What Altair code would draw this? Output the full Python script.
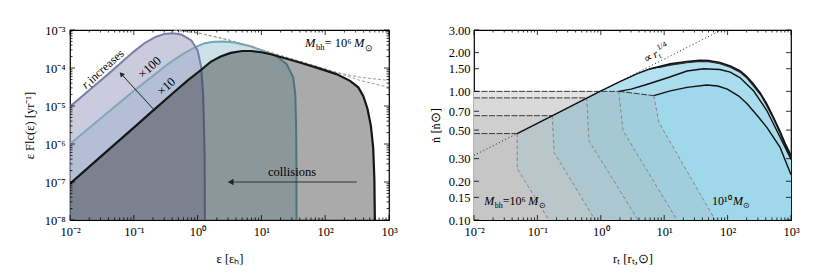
import altair as alt
import pandas as pd

FONT = "Liberation Serif, Times New Roman, serif"
WL, WR, H = 319, 317, 190

# ================= LEFT PANEL DATA =================
# "x100" curve (purple)
pur_x = [0.01, 0.02, 0.04, 0.07, 0.1, 0.15, 0.22, 0.3, 0.4, 0.56, 0.8, 1.0, 1.14, 1.22, 1.26, 1.29, 1.3]
pur_y = [9.6e-6, 2.6e-5, 7.0e-5, 1.6e-4, 2.7e-4, 4.6e-4, 6.6e-4, 7.8e-4, 8.2e-4, 7.6e-4, 5.3e-4,
         2.9e-4, 1.05e-4, 2.1e-5, 2.8e-6, 4e-7, 1e-8]
# "x10" curve (teal)
teal_x = [0.01, 0.03, 0.1, 0.2, 0.34, 0.6, 0.9, 1.3, 1.8, 2.6, 3.8, 6.6, 10, 17.4, 25, 31.6, 34, 35, 35.4, 35.5]
teal_y = [1e-6, 4.7e-6, 2.5e-5, 6.2e-5, 1.27e-4, 2.4e-4, 3.5e-4, 4.5e-4, 4.9e-4, 5.0e-4, 4.7e-4, 3.8e-4,
          2.95e-4, 2.05e-4, 1.25e-4, 5.6e-5, 2e-5, 3e-6, 3e-7, 1e-8]
# base curve (black)
blk_x = [0.01, 0.03, 0.1, 0.19, 0.4, 0.7, 1.14, 1.6, 2.3, 3.3, 5, 7, 10, 14, 20, 40, 80, 150, 245, 330,
         395, 460, 520, 565, 590, 600]
blk_y = [9e-8, 4.6e-7, 2.7e-6, 7.0e-6, 2.1e-5, 4.7e-5, 9.0e-5, 1.45e-4, 2.0e-4, 2.5e-4, 2.8e-4, 2.8e-4,
         2.6e-4, 2.3e-4, 1.95e-4, 1.4e-4, 9.8e-5, 6.9e-5, 4.6e-5, 3.1e-5, 1.85e-5, 8.5e-6, 3e-6, 8e-7,
         1.2e-7, 1e-8]
# grey dashed asymptotes
dsh_x = [0.43, 1.09, 3.22, 9.5, 40, 148, 351, 1000]
dshA_y = [1e-3, 8.2e-4, 5.36e-4, 3.1e-4, 1.5e-4, 7.7e-5, 5.7e-5, 4.7e-5]
dshB_y = [1e-3, 8.2e-4, 5.36e-4, 3.1e-4, 1.5e-4, 7.7e-5, 4.7e-5, 3.1e-5]
# arrows
coll_x = [3.3, 312]
coll_y = [1e-7, 1e-7]
rt_x = [0.0637, 0.213]
rt_y = [6.95e-5, 7.57e-6]

xL_vals = [0.01, 0.1, 1, 10, 100, 1000]
xL_labels = ["10⁻²", "10⁻¹", "10⁰", "10¹", "10²", "10³"]
yL_vals = [1e-8, 1e-7, 1e-6, 1e-5, 1e-4, 1e-3]
yL_labels = ["10⁻⁸", "10⁻⁷", "10⁻⁶", "10⁻⁵", "10⁻⁴", "10⁻³"]

# ================= RIGHT PANEL DATA =================
env_x = [0.048, 0.2, 0.97, 2.0, 3.7, 6, 12.5, 22.9, 36.6, 50, 75.6, 110, 156, 200, 256, 330, 416, 530,
         673, 820, 968, 1000]
env_y = [0.47, 0.67, 1.0, 1.19, 1.37, 1.5, 1.64, 1.71, 1.75, 1.74, 1.68, 1.58, 1.45, 1.31, 1.14, 0.97,
         0.80, 0.63, 0.49, 0.39, 0.33, 0.32]
k1_x = [6, 12.5, 22.9, 36.6, 50, 75.6, 110, 156, 200, 256, 330, 416, 530, 673, 820, 1000]
k1_y = [1.49, 1.62, 1.69, 1.73, 1.72, 1.66, 1.56, 1.43, 1.29, 1.12, 0.955, 0.785, 0.62, 0.48, 0.38, 0.315]
k2_x = [8, 12.5, 22.9, 36.6, 50, 75.6, 110, 156, 200, 256, 330, 416, 530, 673, 820, 1000]
k2_y = [1.53, 1.60, 1.67, 1.71, 1.70, 1.64, 1.54, 1.41, 1.27, 1.10, 0.94, 0.77, 0.61, 0.47, 0.372, 0.305]
c2_x = [1.92, 3, 5, 11, 22.9, 41.7, 75.6, 110, 156, 256, 416, 673, 968, 1000]
c2_y = [1.0, 1.04, 1.12, 1.27, 1.44, 1.5, 1.48, 1.41, 1.28, 1.01, 0.71, 0.44, 0.307, 0.295]
c3_x = [6.84, 12.5, 22.9, 47, 70, 99, 150, 203, 300, 416, 673, 968, 1000]
c3_y = [0.926, 1.01, 1.074, 1.12, 1.10, 1.04, 0.92, 0.80, 0.64, 0.525, 0.367, 0.234, 0.225]

# flat (dash) tops and dashed mass boundaries
H1_x, H1_y = [0.01, 0.048], [0.47, 0.47]
H2_x, H2_y = [0.01, 0.171], [0.647, 0.647]
H3_x, H3_y = [0.01, 0.6], [0.89, 0.89]
H4_x, H4_y = [0.01, 1.92], [1.0, 1.0]
H5_x, H5_y = [1.92, 6.84], [1.0, 0.926]
D1_x, D1_y = [0.048, 0.0482, 0.152], [0.47, 0.2506, 0.1]
D2_x, D2_y = [0.171, 0.184, 0.813], [0.647, 0.334, 0.1]
D3_x, D3_y = [0.6, 0.65, 3.87], [0.89, 0.414, 0.1]
D4_x, D4_y = [1.92, 2.24, 15.9], [1.0, 0.495, 0.1]
D5_x, D5_y = [6.84, 8.28, 63.8], [0.926, 0.571, 0.1]
dot_x, dot_y = [0.01, 80], [0.318, 3.0]

yR_vals = [0.10, 0.15, 0.20, 0.30, 0.50, 0.70, 1.00, 1.50, 2.00, 3.00]

# ================= helpers =================
def frame(xs, ys, **cols):
    d = {"x": xs, "y": ys}
    d.update(cols)
    df = pd.DataFrame(d)
    df["i"] = range(len(df))
    return df


def label_expr(vals, labels):
    expr = f"'{labels[-1]}'"
    for v, l in reversed(list(zip(vals[:-1], labels[:-1]))):
        expr = f"datum.value < {v * 3:g} ? '{l}' : ({expr})"
    return expr


def axis(title, vals, expr=None, fmt=None, lp=5, tp=8):
    kw = dict(values=vals, title=title, ticks=False, domain=False, grid=False,
              labelFont=FONT, labelFontSize=12.5, titleFont=FONT, titleFontSize=12.5,
              titleFontWeight="normal", labelColor="black", titleColor="black",
              labelPadding=lp, titlePadding=tp, labelFlush=False, labelOverlap=False)
    if expr:
        kw["labelExpr"] = expr
    if fmt:
        kw["format"] = fmt
    return alt.Axis(**kw)


def minor(lo, hi):
    return [m * 10.0 ** e for e in range(lo, hi) for m in range(2, 10)]


def ticks(X, Y, W, xmaj, xmin, ymaj, ymin):
    out = []
    for vals, L in ((xmaj, 5), (xmin, 2.5)):
        d = pd.DataFrame({"x": vals})
        out.append(alt.Chart(d).mark_rule(color="black", strokeWidth=0.8).encode(
            x=X, y=alt.value(H), y2=alt.value(H - L)))
        out.append(alt.Chart(d).mark_rule(color="black", strokeWidth=0.8).encode(
            x=X, y=alt.value(0), y2=alt.value(L)))
    for vals, L in ((ymaj, 5), (ymin, 2.5)):
        if not vals:
            continue
        d = pd.DataFrame({"y": vals})
        out.append(alt.Chart(d).mark_rule(color="black", strokeWidth=0.8).encode(
            y=Y, x=alt.value(0), x2=alt.value(L)))
        out.append(alt.Chart(d).mark_rule(color="black", strokeWidth=0.8).encode(
            y=Y, x=alt.value(W), x2=alt.value(W - L)))
    return out


def rich(x, y, parts, X, Y, angle=0, align="left", baseline="alphabetic"):
    df = pd.DataFrame({"x": [x], "y": [y]})
    out = []
    for txt, size, dx, dy, style in parts:
        out.append(alt.Chart(df).mark_text(
            text=txt, font=FONT, fontSize=size, dx=dx, dy=dy, align=align, baseline=baseline,
            angle=angle, fontStyle=style, color="black").encode(x=X, y=Y))
    return out


def area(df, color, opacity, X, Y):
    return alt.Chart(df).mark_area(color=color, opacity=opacity, clip=True).encode(
        x=X, y=Y, y2="y2:Q")


def line(df, color, width, X, Y, dash=None):
    kw = dict(color=color, strokeWidth=width, clip=True)
    if dash:
        kw["strokeDash"] = dash
    return alt.Chart(df).mark_line(**kw).encode(x=X, y=Y, order="i:Q")


# ================= LEFT PANEL =================
XL = alt.X("x:Q", scale=alt.Scale(type="log", domain=[0.01, 1000], nice=False),
           axis=axis("ε [εₕ]", xL_vals, label_expr(xL_vals, xL_labels), lp=5, tp=15))
YL = alt.Y("y:Q", scale=alt.Scale(type="log", domain=[1e-8, 1e-3], nice=False),
           axis=axis("ε Flc(ε) [yr⁻¹]", yL_vals, label_expr(yL_vals, yL_labels), lp=5, tp=8))

teal_df = frame(teal_x, teal_y, y2=1e-8)
pur_df = frame(pur_x, pur_y, y2=1e-8)
blk_df = frame(blk_x, blk_y, y2=1e-8)

left_layers = [
    area(teal_df, "#8ebfcc", 0.45, XL, YL),
    line(teal_df, "#6aa9b7", 2, XL, YL),
    area(pur_df, "#a0a0c3", 0.55, XL, YL),
    line(pur_df, "#7b7fa8", 2, XL, YL),
    line(frame(dsh_x, dshA_y), "#9a9a9a", 1, XL, YL, [3, 2]),
    line(frame(dsh_x, dshB_y), "#9a9a9a", 1, XL, YL, [3, 2]),
    area(blk_df, "#1b1b1b", 0.373, XL, YL),
    line(blk_df, "#161616", 2.2, XL, YL),
    line(frame(coll_x, coll_y), "#333333", 1, XL, YL),
    alt.Chart(frame([coll_x[0]], [coll_y[0]])).mark_point(
        shape="triangle-left", filled=True, size=45, color="#222222", opacity=1).encode(x=XL, y=YL),
    line(frame(rt_x, rt_y), "#222222", 1, XL, YL),
    alt.Chart(frame([rt_x[0]], [rt_y[0]])).mark_point(
        shape="triangle-up", filled=True, size=30, angle=318, color="#222222", opacity=1).encode(x=XL, y=YL),
    alt.Chart(frame([30.2], [1.8e-7])).mark_text(
        text="collisions", font=FONT, fontSize=12.5, align="center", baseline="middle",
        color="black").encode(x=XL, y=YL),
    alt.Chart(frame([0.177], [1.04e-4])).mark_text(
        text="×100", font=FONT, fontSize=12.5, align="center", baseline="middle", angle=318,
        color="black").encode(x=XL, y=YL),
    alt.Chart(frame([0.323], [3.26e-5])).mark_text(
        text="×10", font=FONT, fontSize=12.5, align="center", baseline="middle", angle=318,
        color="black").encode(x=XL, y=YL),
]
left_layers += rich(0.0178, 2.75e-5, [("r", 12, 0, 0, "italic"), ("t", 8, 4.6, 2.5, "normal"),
                                      (" increases", 12, 8, 0, "normal")], XL, YL, angle=318)
left_layers += rich(48.2, 3.5e-4, [("M", 12.5, 0, 0, "italic"), ("bh", 8.5, 11, 3, "normal"),
                                   ("= 10⁶", 12.5, 19.5, 0, "normal"), ("M", 12.5, 49, 0, "italic"),
                                   ("⊙", 8.5, 60, 3.5, "normal")], XL, YL)
left_layers += ticks(XL, YL, WL, xL_vals, minor(-2, 3), yL_vals, minor(-8, -3))
left = alt.layer(*left_layers).properties(width=WL, height=H)

# ================= RIGHT PANEL =================
XR = alt.X("x:Q", scale=alt.Scale(type="log", domain=[0.01, 1000], nice=False),
           axis=axis("rₜ  [rₜ,⊙]", xL_vals, label_expr(xL_vals, xL_labels), lp=5, tp=15))
YR = alt.Y("y:Q", scale=alt.Scale(type="log", domain=[0.1, 3.0], nice=False),
           axis=axis("ṅ [ṅ⊙]", yR_vals, fmt=".2f", lp=4, tp=6))


def poly(xs, ys):
    return frame(xs, ys, y2=0.1)


Q5 = poly(H4_x + H5_x[1:] + D5_x[1:], H4_y + H5_y[1:] + D5_y[1:])
Q4 = poly(H4_x + D4_x[1:], H4_y + D4_y[1:])
Q3 = poly(H3_x + D3_x[1:], H3_y + D3_y[1:])
Q2 = poly(H2_x + D2_x[1:], H2_y + D2_y[1:])
Q1 = poly(H1_x + D1_x[1:], H1_y + D1_y[1:])
G4 = frame([0.01, H3_x[1], env_x[2]], [1.0, 1.0, 1.0], y2=[0.89, 0.89, 1.0])
G3 = frame([0.01, H2_x[1], H3_x[1]], [0.89, 0.89, 0.89], y2=[0.647, 0.647, 0.89])
G2 = frame([0.01, H1_x[1], H2_x[1]], [0.647, 0.647, 0.647], y2=[0.47, 0.47, 0.647])

right_layers = [
    area(poly(env_x, env_y), "#b4e1ef", 1, XR, YR),
    area(poly(c2_x, c2_y), "#a9dcec", 1, XR, YR),
    area(poly(c3_x, c3_y), "#9ed8ea", 1, XR, YR),
    area(Q5, "#a0cedd", 1, XR, YR),
    area(Q4, "#a4c9d5", 1, XR, YR),
    area(Q3, "#acc7d0", 1, XR, YR),
    area(Q2, "#b9c7cb", 1, XR, YR),
    area(Q1, "#c6c6c6", 1, XR, YR),
    area(G2, "#cfcfcf", 1, XR, YR),
    area(G3, "#d9d9d9", 1, XR, YR),
    area(G4, "#e2e2e2", 1, XR, YR),
]
for dx_, dy_ in ((D1_x, D1_y), (D2_x, D2_y), (D3_x, D3_y), (D4_x, D4_y), (D5_x, D5_y)):
    right_layers.append(line(frame(dx_, dy_), "#858585", 1, XR, YR, [3.5, 2.5]))
for hx, hy in ((H1_x, H1_y), (H2_x, H2_y), (H3_x, H3_y), (H4_x, H4_y), (H5_x, H5_y)):
    right_layers.append(line(frame(hx, hy), "#3a3a3a", 1, XR, YR, [6, 1.5]))
right_layers += [
    line(frame(dot_x, dot_y), "#222222", 1, XR, YR, [1, 2.5]),
    line(frame(k2_x, k2_y), "#2b2b2b", 1.1, XR, YR),
    line(frame(k1_x, k1_y), "#2b2b2b", 1.1, XR, YR),
    line(frame(env_x, env_y), "#111111", 1.4, XR, YR),
    line(frame(c2_x, c2_y), "#111111", 1.4, XR, YR),
    line(frame(c3_x, c3_y), "#111111", 1.4, XR, YR),
]
right_layers += rich(5.2, 1.66, [("∝ ", 11.5, 0, 0, "normal"), ("r", 11.5, 10, 0, "italic"),
                                 ("t", 8, 14.5, 2.5, "normal"), ("1/4", 8, 16.5, -6, "normal")],
                     XR, YR, angle=333)
right_layers += rich(0.0145, 0.1315, [("M", 12, 0, 0, "italic"), ("bh", 8, 10.5, 3, "normal"),
                                      ("=10⁶", 12, 18.5, 0, "normal"), ("M", 12, 44, 0, "italic"),
                                      ("⊙", 8, 55, 3.5, "normal")], XR, YR)
right_layers += rich(56.6, 0.1315, [("10¹⁰", 12, 0, 0, "normal"), ("M", 12, 21, 0, "italic"),
                                    ("⊙", 8, 31.5, 3.5, "normal")], XR, YR)
right_layers += ticks(XR, YR, WR, xL_vals, minor(-2, 3), yR_vals, [])
right = alt.layer(*right_layers).properties(width=WR, height=H)

chart = alt.hconcat(left, right, spacing=30).resolve_scale(x="independent", y="independent").configure_view(
    stroke="black", strokeWidth=1.2).properties(
    padding={"left": 14, "top": 15, "right": 5, "bottom": 5}, background="white")

chart.save("out.html", embed_options={"renderer": "svg", "actions": False})
